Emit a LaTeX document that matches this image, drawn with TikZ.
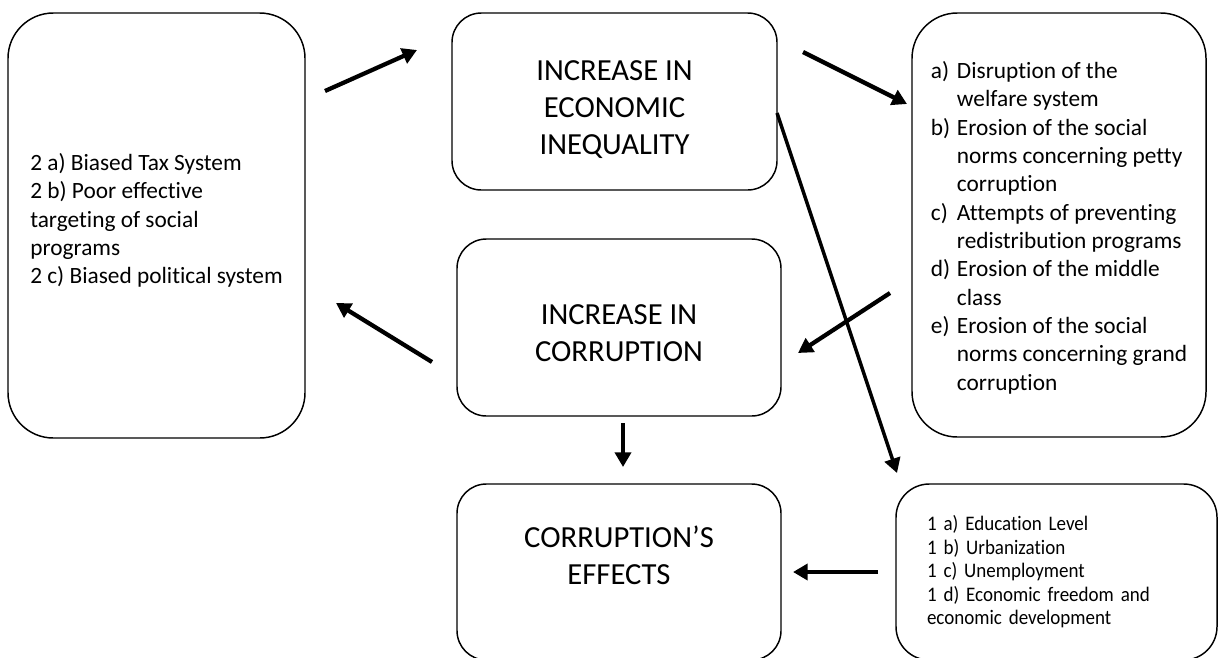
\documentclass[tikz,border=0pt]{standalone}
\usepackage{fontspec}
\setmainfont{Carlito}[Ligatures={TeX,CommonOff}]
\newfontfamily\narrowfont{Carlito}[Ligatures={TeX,CommonOff}, FakeStretch=0.92, WordSpace=0.75]
\usetikzlibrary{arrows.meta}

\begin{document}
\begin{tikzpicture}[
    x=0.75pt, y=-0.75pt,
    box/.style={draw, line width=1.1pt, rounded corners=22pt, inner sep=0pt},
    bigbox/.style={box, rounded corners=34pt},
    title/.style={font=\fontsize{23}{27.75}\selectfont, align=center},
    listtext/.style={font=\fontsize{17.5}{21.25}\selectfont, align=left},
    link/.style={-{Triangle[length=11pt,width=12pt]}, line width=3.2pt},
    longlink/.style={link, line width=2.6pt}
  ]
  \useasboundingbox (0,0) rectangle (1219,657);

  % Causes
  \node[bigbox, listtext, minimum width=222.75pt, text height=203pt, text depth=115.75pt] (causes) at (156.5,225.5)
    {2 a) Biased Tax System\\2 b) Poor effective\\targeting of social\\programs\\2 c) Biased political system};

  % Central column
  \node[box, title, minimum width=243.75pt, text height=105.75pt, text depth=27pt] (ineq) at (614.5,101.5)
    {INCREASE IN\\ECONOMIC\\INEQUALITY};
  \node[box, title, minimum width=243pt, text height=92pt, text depth=40.75pt] (corr) at (619,327.5)
    {INCREASE IN\\CORRUPTION};
  \node[box, title, minimum width=243pt, text height=75pt, text depth=57pt] (effects) at (619,572)
    {CORRUPTION’S\\EFFECTS};

  % Mechanisms
  \node[bigbox, listtext, minimum width=220.5pt, minimum height=318pt, text height=134.5pt, text depth=120.5pt] (mech) at (1059,225)
    {\begin{tabular}{@{}p{19.5pt}@{}l@{}}
      a) & Disruption of the\\
         & welfare system\\
      b) & Erosion of the social\\
         & norms concerning petty\\
         & corruption\\
      c) & Attempts of preventing\\
         & redistribution programs\\
      d) & Erosion of the middle\\
         & class\\
      e) & Erosion of the social\\
         & norms concerning grand\\
         & corruption
    \end{tabular}};

  % Factors
  \node[box, rounded corners=25pt, font=\narrowfont\fontsize{15.5}{17.6}\selectfont, align=left,
    text width=194.25pt, inner xsep=23.25pt, minimum height=132pt] (factors) at (1056.5,572)
    {1 a) Education Level\\1 b) Urbanization\\1 c) Unemployment\\1 d) Economic freedom and\\economic development};

  % Arrow ends
  \coordinate (c1s) at (325,91);  \coordinate (c1e) at (417,50);
  \coordinate (c2s) at (803,52);  \coordinate (c2e) at (907,104);
  \coordinate (c3s) at (890,293); \coordinate (c3e) at (798,353);
  \coordinate (c4s) at (432,362); \coordinate (c4e) at (336,303);
  \coordinate (c5s) at (623,423); \coordinate (c5e) at (623,467);
  \coordinate (c6s) at (878,572); \coordinate (c6e) at (793,572);
  \coordinate (c7s) at (777,113); \coordinate (c7e) at (897,473);

  \draw[link] (c1s) -- (c1e);
  \draw[link] (c2s) -- (c2e);
  \draw[link] (c3s) -- (c3e);
  \draw[link] (c4s) -- (c4e);
  \draw[link] (c5s) -- (c5e);
  \draw[link] (c6s) -- (c6e);
  \draw[longlink] (c7s) -- (c7e);
\end{tikzpicture}
\end{document}
